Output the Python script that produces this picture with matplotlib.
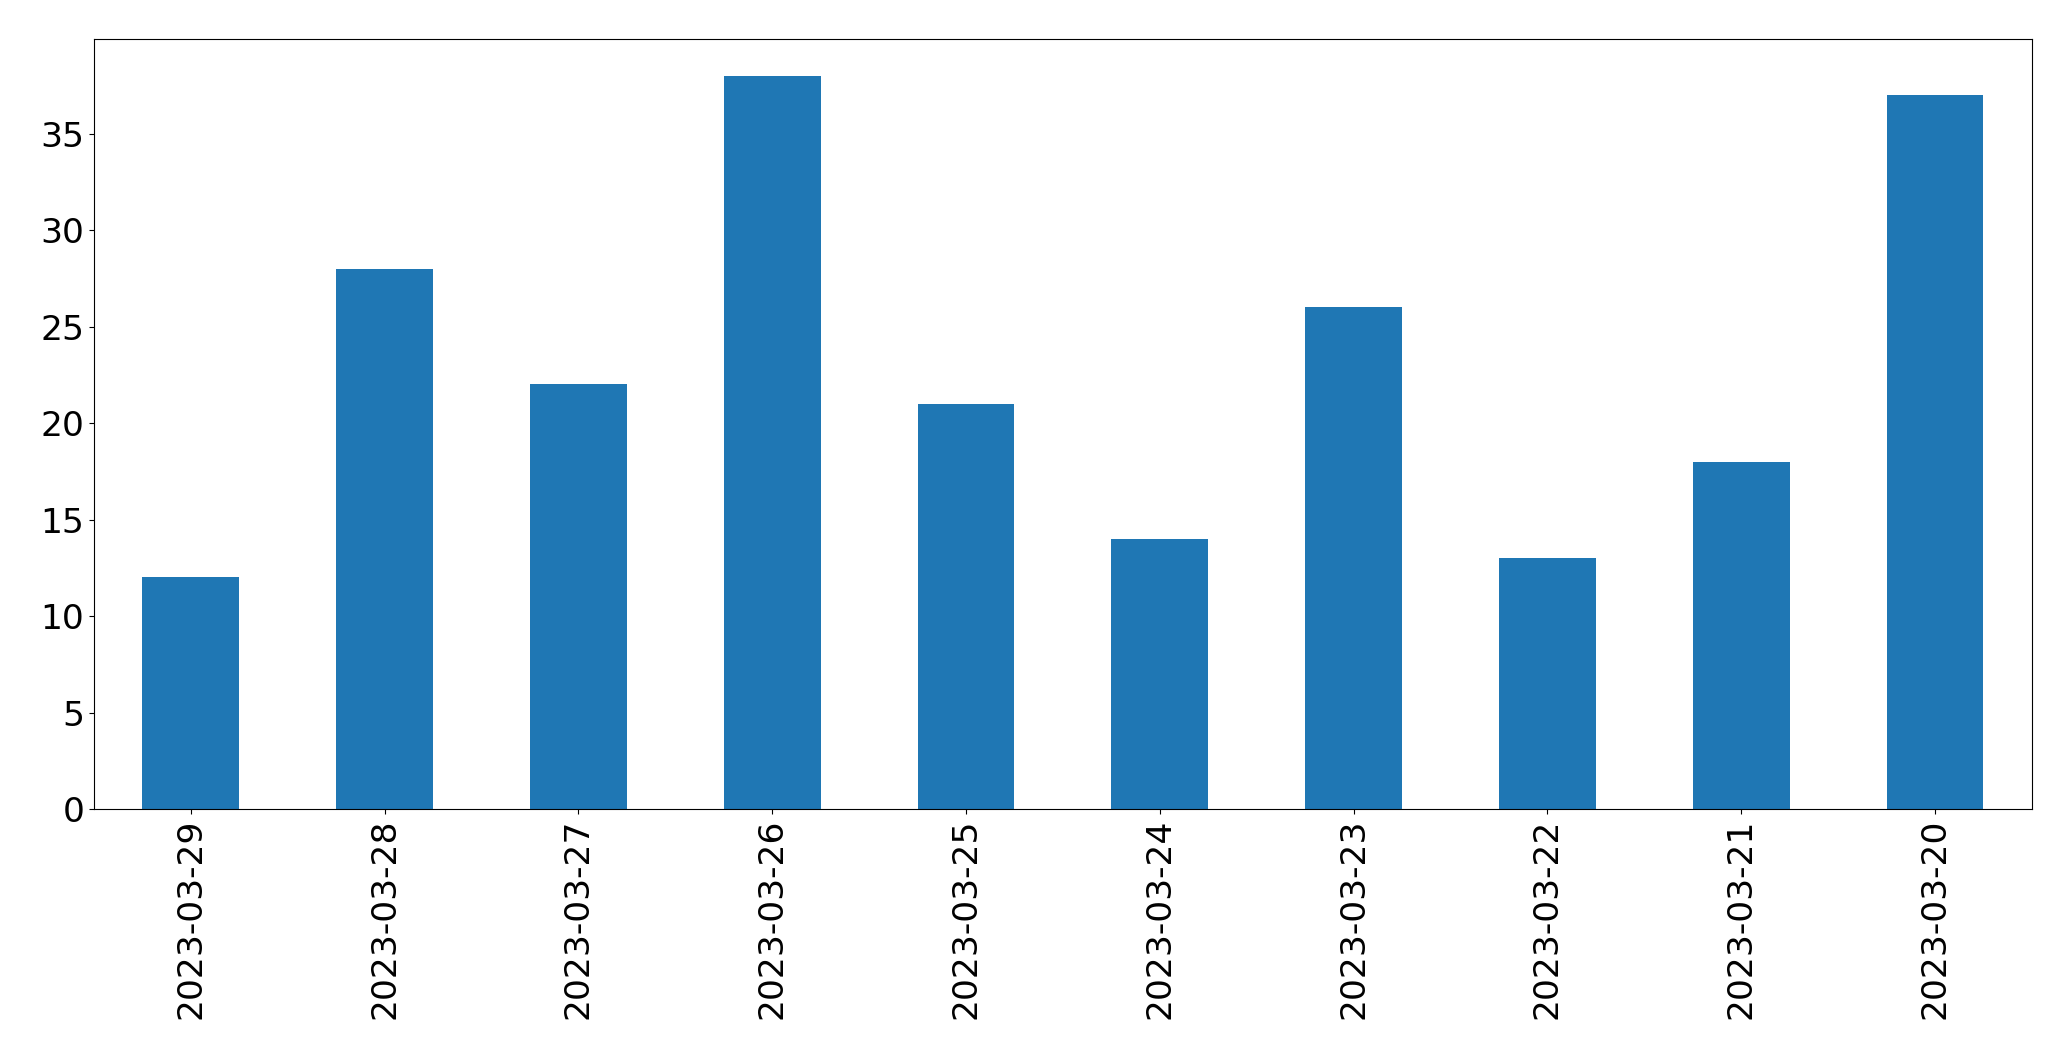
import matplotlib
matplotlib.use("Agg")
import matplotlib.pyplot as plt
import numpy as np

dates = ["2023-03-29", "2023-03-28", "2023-03-27", "2023-03-26", "2023-03-25",
         "2023-03-24", "2023-03-23", "2023-03-22", "2023-03-21", "2023-03-20"]
counts = [12, 28, 22, 38, 21, 14, 26, 13, 18, 37]

fig = plt.figure(figsize=(20.71, 10.61), dpi=100)
ax = fig.add_axes([0.0454, 0.2375, 0.9357, 0.7257])
x = np.arange(len(dates))
ax.bar(x, counts, width=0.5, color="#1f77b4")
ax.set_xlim(-0.5, len(dates) - 0.5)
ax.set_xticks(x)
ax.set_xticklabels(dates, rotation=90)
ax.tick_params(axis="both", labelsize=24.8)
fig.savefig("out.png", dpi=100)
